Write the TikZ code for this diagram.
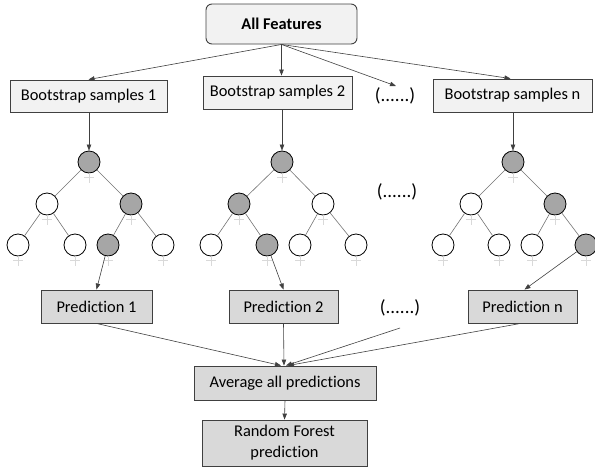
\documentclass[tikz,border=0pt]{standalone}
\usepackage{fontspec}
\setmainfont{Carlito}[Ligatures={NoCommon}]
\usetikzlibrary{arrows.meta}
\definecolor{boxlight}{HTML}{F2F2F2}
\definecolor{boxdark}{HTML}{D9D9D9}
\definecolor{nodegray}{HTML}{A6A6A6}
\definecolor{linegray}{HTML}{404040}
\tikzset{
  lightbox/.style={draw=linegray, line width=0.9pt, fill=boxlight, inner sep=0pt, font=\fontsize{16.4}{18}\selectfont},
  darkbox/.style={draw=linegray, line width=0.9pt, fill=boxdark, inner sep=0pt, font=\fontsize{16.4}{21}\selectfont, align=center},
  dotstext/.style={font=\fontsize{19}{21}\selectfont, inner sep=0pt},
  arr/.style={draw=linegray, line width=0.6pt, -{Triangle[length=6pt,width=4.5pt]}},
  plain/.style={draw=linegray, line width=0.6pt},
  tn/.style={circle, draw=black, line width=0.8pt, minimum size=22pt, inner sep=0pt, fill=white},
  tg/.style={tn, fill=nodegray},
  tedge/.style={draw=gray!90!black, line width=0.6pt},
  ghost/.style={draw=gray!30, line width=0.8pt}
}
\newcommand{\ghostmark}[1]{\draw[ghost] (#1.south) -- ++(0,10); \draw[ghost] ([shift={(-5,4)}]#1.south) -- ++(10,0);}
\begin{document}
\begin{tikzpicture}[x=1pt,y=-1pt]
\useasboundingbox (0,0) rectangle (595,472);
% top
\node[lightbox, rounded corners=6pt, minimum width=151pt, minimum height=40pt, font=\fontsize{16.4}{18}\selectfont\bfseries] (all) at (281.5,24) {All Features};
\node[lightbox, minimum width=157pt, minimum height=32pt] (bs1) at (88.5,96) {Bootstrap samples 1};
\node[lightbox, minimum width=149pt, minimum height=33pt] (bs2) at (277.5,92.5) {Bootstrap samples 2};
\node[dotstext] (dots1) at (395,96) {(......)};
\node[lightbox, minimum width=159pt, minimum height=33pt] (bsn) at (512.5,95.5) {Bootstrap samples n};
\coordinate (dotsend) at (396,86);
\draw[arr] (all.south) -- (bs1.north);
\draw[arr] (all.south) -- (all.south |- bs2.north);
\draw[arr] (all.south) -- (dotsend);
\draw[arr] (all.south) -- ([xshift=-2pt]bsn.north);
% tree 1
\node[tg] (t1r) at (89,162) {};
\node[tn] (t1a) at (47,204) {};
\node[tg] (t1b) at (131,204) {};
\node[tn] (t1aa) at (18,245) {};
\node[tn] (t1ab) at (75,245) {};
\node[tg] (t1ba) at (108,245) {};
\node[tn] (t1bb) at (163,245) {};
% tree 2
\node[tg] (t2r) at (282,162) {};
\node[tg] (t2a) at (239,204) {};
\node[tn] (t2b) at (323,204) {};
\node[tn] (t2aa) at (211,245) {};
\node[tg] (t2ab) at (267,245) {};
\node[tn] (t2ba) at (300,245) {};
\node[tn] (t2bb) at (356,245) {};
% tree 3
\node[tg] (t3r) at (513,162) {};
\node[tn] (t3a) at (471,204) {};
\node[tg] (t3b) at (555,204) {};
\node[tn] (t3aa) at (443,245) {};
\node[tn] (t3ab) at (499,245) {};
\node[tn] (t3ba) at (532,245) {};
\node[tg] (t3bb) at (586,245) {};
\foreach \t in {1,2,3}{
  \draw[tedge] (t\t r) -- (t\t a);
  \draw[tedge] (t\t r) -- (t\t b);
  \draw[tedge] (t\t a) -- (t\t aa);
  \draw[tedge] (t\t a) -- (t\t ab);
  \draw[tedge] (t\t b) -- (t\t ba);
  \draw[tedge] (t\t b) -- (t\t bb);
  \foreach \n in {r,a,b,aa,ab,ba,bb}{\ghostmark{t\t\n}}
}
\node[dotstext] (dots2) at (397,192) {(......)};
\draw[arr] (bs1.south -| t1r) -- (t1r.north);
\draw[arr] (bs2.south -| t2r) -- (t2r.north);
\draw[arr] (bsn.south -| t3r) -- (t3r.north);
% predictions
\node[darkbox, minimum width=111pt, minimum height=33pt] (p1) at (96.5,306.5) {Prediction 1};
\node[darkbox, minimum width=109pt, minimum height=33pt] (p2) at (283.5,306.5) {Prediction 2};
\node[dotstext] (dots3) at (400,308) {(......)};
\node[darkbox, minimum width=109pt, minimum height=33pt] (pn) at (522.5,306.5) {Prediction n};
\draw[arr] (t1ba) -- (p1.north);
\draw[arr] (t2ab) -- (p2.north);
\draw[arr] (t3bb) -- ([xshift=2pt]pn.north);
% aggregation
\node[darkbox, minimum width=182pt, minimum height=34pt] (avg) at (285,383) {Average all predictions};
\node[darkbox, minimum width=165pt, minimum height=46pt] (rf) at (284.5,443) {Random Forest\\prediction};
\coordinate (dotsstart) at (400,328);
\draw[arr] (p1.south) -- ([xshift=-4pt]avg.north);
\draw[arr] (p2.south) -- ([xshift=-1pt]avg.north);
\draw[arr] (dotsstart) -- ([xshift=1pt]avg.north);
\draw[arr] ([xshift=-2pt]pn.south) -- ([xshift=3pt]avg.north);
\draw[arr] (avg.south) -- (rf.north);
\end{tikzpicture}
\end{document}
